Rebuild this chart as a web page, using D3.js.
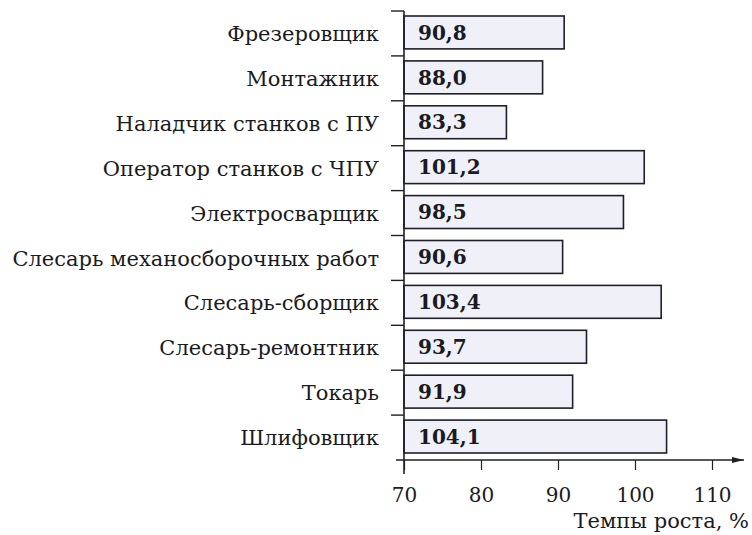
<!DOCTYPE html>
<html>
<head>
<meta charset="utf-8">
<script src="https://cdn.jsdelivr.net/npm/d3@7"></script>
<style>
	body { margin: 0; background: #fff; }
	svg text { font-family: "DejaVu Serif", "Liberation Serif", serif; fill: #1a1a22; }
</style>
</head>
<body>
<div id="chart"></div>
<script>
	var professions = ["Фрезеровщик", "Монтажник", "Наладчик станков с ПУ", "Оператор станков с ЧПУ",
		"Электросварщик", "Слесарь механосборочных работ", "Слесарь-сборщик", "Слесарь-ремонтник",
		"Токарь", "Шлифовщик"];
	var growth = [90.8, 88.0, 83.3, 101.2, 98.5, 90.6, 103.4, 93.7, 91.9, 104.1];
	var xTicks = [70, 80, 90, 100, 110];
	var xTitle = "Темпы роста, %";

	var width = 752, height = 535;
	var leftX = 404, topY = 11, bottomY = 460;

	var data = professions.map(function (p, i) { return { name: p, value: growth[i] }; });

	var xScale = d3.scaleLinear().domain([70, 110]).range([leftX, 712]);
	var yScale = d3.scaleBand().domain(professions).range([topY, bottomY]);

	var svg = d3.select("#chart").append("svg")
		.attr("width", width).attr("height", height);

	// bars
	svg.selectAll("rect.bar")
		.data(data)
		.enter().append("rect")
		.attr("class", "bar")
		.attr("x", xScale(70))
		.attr("y", function (d) { return yScale(d.name) + 5; })
		.attr("width", function (d) { return xScale(d.value) - xScale(70); })
		.attr("height", yScale.bandwidth() - 12)
		.attr("fill", "#f0f1f8")
		.attr("stroke", "#1f1f26")
		.attr("stroke-width", 1.6);

	// values inside bars
	svg.selectAll("text.val")
		.data(data)
		.enter().append("text")
		.attr("class", "val")
		.attr("x", xScale(70) + 14)
		.attr("y", function (d) { return yScale(d.name) + 5 + (yScale.bandwidth() - 12) / 2; })
		.attr("dy", "0.36em")
		.style("font-size", "20px")
		.style("font-weight", "bold")
		.text(function (d) { return d3.format(".1f")(d.value).replace(".", ","); });

	// category labels
	svg.selectAll("text.cat")
		.data(professions)
		.enter().append("text")
		.attr("class", "cat")
		.attr("x", 379)
		.attr("y", function (d) { return yScale(d) + yScale.bandwidth() / 2; })
		.attr("dy", "0.36em")
		.attr("text-anchor", "end")
		.style("font-size", "21px")
		.text(function (d) { return d; });

	// category separators on the left of the axis
	svg.selectAll("line.sep")
		.data(professions)
		.enter().append("line")
		.attr("class", "sep")
		.attr("x1", leftX - 13).attr("x2", leftX)
		.attr("y1", function (d) { return yScale(d); })
		.attr("y2", function (d) { return yScale(d); })
		.attr("stroke", "#1f1f26").attr("stroke-width", 1.4);

	// vertical axis
	svg.append("line")
		.attr("x1", leftX).attr("x2", leftX)
		.attr("y1", topY).attr("y2", bottomY + 14)
		.attr("stroke", "#1f1f26").attr("stroke-width", 1.6);

	// horizontal axis with arrow
	svg.append("defs").append("marker")
		.attr("id", "arrow")
		.attr("viewBox", "0 0 12 6")
		.attr("refX", 12).attr("refY", 3)
		.attr("markerWidth", 12).attr("markerHeight", 6)
		.attr("markerUnits", "userSpaceOnUse")
		.attr("orient", "auto")
		.append("path").attr("d", "M0,0L12,3L0,6Z").attr("fill", "#1f1f26");

	svg.append("line")
		.attr("x1", leftX - 8).attr("x2", 744)
		.attr("y1", bottomY).attr("y2", bottomY)
		.attr("stroke", "#1f1f26").attr("stroke-width", 1.6)
		.attr("marker-end", "url(#arrow)");

	var xAxis = svg.append("g")
		.attr("transform", "translate(0," + bottomY + ")")
		.call(d3.axisBottom(xScale).tickValues(xTicks).tickSize(10).tickPadding(18));
	xAxis.select(".domain").remove();
	xAxis.selectAll(".tick line").attr("stroke", "#1f1f26").attr("stroke-width", 1.2);
	xAxis.selectAll(".tick text")
		.style("font-family", "DejaVu Serif, serif")
		.style("font-size", "20px")
		.attr("fill", "#1a1a22");

	svg.append("text")
		.attr("x", 749).attr("y", 528)
		.attr("text-anchor", "end")
		.style("font-size", "21px")
		.text(xTitle);
</script>
</body>
</html>
